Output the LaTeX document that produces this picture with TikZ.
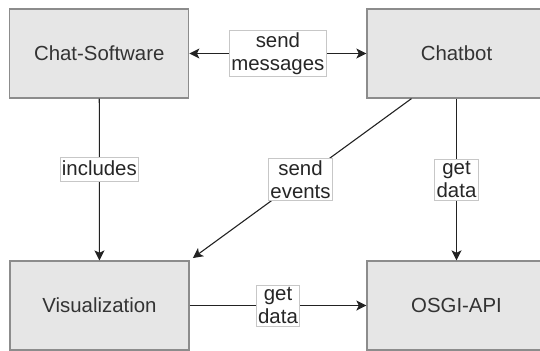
\documentclass[tikz,border=0pt]{standalone}
\usepackage{fontspec}
\setmainfont{Liberation Sans}
\usetikzlibrary{arrows.meta,calc}
\definecolor{BoxFill}{HTML}{E6E6E6}
\definecolor{BoxLine}{HTML}{8C8C8C}
\definecolor{LinkClr}{HTML}{222222}

\begin{document}
\begin{tikzpicture}[x=0.5pt,y=-0.5pt,
  block/.style={draw=BoxLine,fill=BoxFill,line width=0.6pt,minimum width=89.5pt,minimum height=44.5pt,
    inner sep=0pt,text=black!80,font=\fontsize{10.2}{11.7}\selectfont},
  tip/.tip={Stealth[length=5pt,width=5pt,inset=1.2pt]},
  link/.style={draw=LinkClr,line width=0.55pt,-tip},
  tag/.style={draw=black!22,fill=white,line width=0.4pt,inner xsep=1pt,inner ysep=1pt,
    align=center,text=black!85,font=\fontsize{10.2}{11.7}\selectfont}]
\useasboundingbox (0,0) rectangle (540,350);

% The four components.
\node[block] (chat) at (99.25,53.5) {Chat-Software};
\node[block] (bot) at (456.5,53.5) {Chatbot};
\node[block] (vis) at (99.5,305.5) {Visualization};
\node[block] (api) at (456.5,305.5) {OSGI-API};

% Connections between them.
\draw[link,tip-tip] (chat) -- (bot)
  node[tag,midway] {send\\messages};
\draw[link] (chat) -- (vis)
  node[tag,pos=0.44,text height=7.8pt,text depth=2.2pt] {includes};
\draw[link,shorten >=2pt] ($(bot.south west)!.25!(bot.south east)$) -- (vis.north east)
  node[tag,midway] {send\\events};
\draw[link] (bot) -- (api)
  node[tag,midway] {get\\data};
\draw[link] (vis) -- (api)
  node[tag,midway] {get\\data};

\end{tikzpicture}
\end{document}
